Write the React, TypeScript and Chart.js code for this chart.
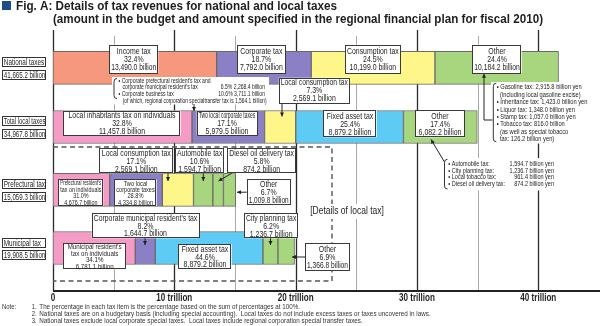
import React, { useEffect, useRef } from 'react';
import { Chart, registerables } from 'chart.js';

Chart.register(...registerables);

// ---------------- DATA ----------------
const rowNames = ['National taxes', 'Total local taxes', 'Prefectural tax', 'Municipal tax'];
const rowTotals = [41665.2, 34967.8, 15059.3, 19908.5];

const nationalItems = ['Income tax', 'Corporate tax', 'Consumption tax', 'Other'];
const nationalValues = [13490.0, 7792.0, 10199.0, 10184.2];
const nationalShares = [32.4, 18.7, 24.5, 24.4];

const localItems = ['Local inhabitants tax on individuals', 'Two local corporate taxes', 'Local consumption tax', 'Fixed asset tax', 'Other'];
const localValues = [11457.8, 5979.5, 2569.1, 8879.2, 6082.2];
const localShares = [32.8, 17.1, 7.3, 25.4, 17.4];

const prefItems = ["Prefectural resident's tax on individuals", 'Two local corporate taxes', 'Local consumption tax', 'Automobile tax', 'Diesel oil delivery tax', 'Other'];
const prefValues = [4676.7, 4334.8, 2569.1, 1594.7, 874.2, 1009.8];
const prefShares = [31.0, 28.8, 17.1, 10.6, 5.8, 6.7];

const muniItems = ["Municipal resident's tax on individuals", "Corporate municipal resident's tax", 'Fixed asset tax', 'City planning tax', 'Other'];
const muniValues = [6781.1, 1644.7, 8879.2, 1236.7, 1366.8];
const muniShares = [34.1, 8.2, 44.6, 6.2, 6.9];

const corpSubFirst = ["Corporate prefectural resident's tax and", "corporate municipal resident's tax"];
const corpSubSecond = 'Corporate business tax';
const corpSubShares = [6.5, 10.6];
const corpSubValues = [2268.4, 3711.1];
const corpSpecialTransfer = 1564.1;

const nationalOtherItems = ['Gasoline tax', 'Inheritance tax', 'Liquor tax', 'Stamp tax', 'Tobacco tax'];
const nationalOtherValues = [2915.8, 1423.0, 1348.0, 1057.0, 816.0];
const specialTobaccoValue = 126.2;

const localOtherItems = ['Automobile tax', 'City planning tax', 'Local tobacco tax', 'Diesel oil delivery tax'];
const localOtherValues = [1594.7, 1236.7, 961.4, 874.2];

const tickValues = [0, 10000, 20000, 30000, 40000];
const tickLabels = ['0', '10 trillion', '20 trillion', '30 trillion', '40 trillion'];
const minorTickValues = [5000, 15000, 25000, 35000];

const noteLines = [
  'The percentage in each tax item is the percentage based on the sum of percentages at 100%.',
  'National taxes are on a budgetary basis (including special accounting).  Local taxes do not include excess taxes or taxes uncovered in laws.',
  'National taxes exclude local corporate special taxes.  Local taxes include regional corporation special transfer taxes.',
];

// ---------------- STYLE / LAYOUT ----------------
const C = { salmon: '#F5987D', purple: '#8B80C5', yellow: '#FFF68A', green: '#A8D67E', pink: '#F59CC6', blue: '#5DCBF4' };
const rowColors = [
  [C.salmon, C.purple, C.yellow, C.green],
  [C.pink, C.purple, C.yellow, C.blue, C.green],
  [C.pink, C.purple, C.yellow, C.green, C.green, C.green],
  [C.pink, C.purple, C.blue, C.green, C.green],
];
const rowTrack = [9.5, 34.8, 61.7, 86.6]; // positions on the 0..100 row track

const FONT = '"Liberation Sans", Arial, Helvetica, sans-serif';
const INK = '#1e1e1e';

const rows = [
  { items: nationalItems, values: nationalValues, shares: nationalShares },
  { items: localItems, values: localValues, shares: localShares },
  { items: prefItems, values: prefValues, shares: prefShares },
  { items: muniItems, values: muniValues, shares: muniShares },
];

const fmt = (v: number) => v.toLocaleString('en-US', { minimumFractionDigits: 1, maximumFractionDigits: 1 });
const pct = (v: number) => v.toFixed(1) + '%';
const starts = (vals: number[]) => { let s = 0; return vals.map((v) => { const a = s; s += v; return a; }); };

type Pt = [number, number];
const boxSpecs: { r: number; s: number; x: number; y: number; w: number; h: number; size: number; gap: number; wrap?: number; arrow?: Pt[] }[] = [
  { r: 0, s: 0, x: 109.3, y: 44.7, w: 49, h: 28.6, size: 9, gap: 8 },
  { r: 0, s: 1, x: 237, y: 44.7, w: 48.7, h: 28.6, size: 9, gap: 8 },
  { r: 0, s: 2, x: 345, y: 44.7, w: 55.7, h: 28.6, size: 9, gap: 8 },
  { r: 0, s: 3, x: 472.3, y: 44.7, w: 49.4, h: 28.6, size: 9, gap: 8 },
  { r: 1, s: 0, x: 63.3, y: 110.7, w: 117.4, h: 25, size: 9, gap: 8 },
  { r: 1, s: 1, x: 196.7, y: 110.7, w: 60.6, h: 25, size: 9, gap: 8 },
  { r: 1, s: 2, x: 278.7, y: 77.7, w: 71.3, h: 25.6, size: 9, gap: 8, arrow: [[282, 103.3], [282, 116.5]] },
  { r: 1, s: 3, x: 323.3, y: 110, w: 53.4, h: 27.3, size: 9, gap: 8 },
  { r: 1, s: 4, x: 415, y: 110, w: 50, h: 27.3, size: 9, gap: 8 },
  { r: 2, s: 0, x: 58.3, y: 179.3, w: 45, h: 26.7, size: 7, gap: 6.4, wrap: 2 },
  { r: 2, s: 1, x: 114.3, y: 179.3, w: 42.4, h: 26.7, size: 7.4, gap: 6.4, wrap: 2 },
  { r: 2, s: 2, x: 99.3, y: 148.3, w: 74, h: 25, size: 9, gap: 8, arrow: [[168, 173.3], [168, 181]] },
  { r: 2, s: 3, x: 175, y: 148.3, w: 49.3, h: 25, size: 9, gap: 8, arrow: [[203.3, 173.3], [203.3, 181]] },
  { r: 2, s: 4, x: 227.3, y: 148.3, w: 68.7, h: 25, size: 9, gap: 8, arrow: [[231.7, 173.3], [218.5, 181]] },
  { r: 2, s: 5, x: 246.7, y: 179.3, w: 44, h: 25.7, size: 9, gap: 8.3, arrow: [[246.7, 192.2], [237, 192.2]] },
  { r: 3, s: 0, x: 63.3, y: 243.3, w: 62.7, h: 26, size: 8, gap: 6.5, wrap: 2 },
  { r: 3, s: 1, x: 91.7, y: 213.3, w: 107.6, h: 25, size: 9, gap: 7.6, arrow: [[145, 238.3], [145, 245]] },
  { r: 3, s: 2, x: 178.3, y: 244, w: 53.4, h: 25.3, size: 9, gap: 7.8 },
  { r: 3, s: 3, x: 244, y: 213.3, w: 54.3, h: 25, size: 9, gap: 8, arrow: [[270.5, 238.3], [270.5, 245]] },
  { r: 3, s: 4, x: 305, y: 242.7, w: 45, h: 28.3, size: 9, gap: 8, arrow: [[305, 257], [292, 257]] },
];

// ---------------- DRAW HELPERS ----------------
function txt(ctx: CanvasRenderingContext2D, s: string, x: number, y: number, o: any = {}) {
  const size = o.size ?? 9;
  ctx.font = `${o.bold ? 'bold ' : ''}${size}px ${FONT}`;
  ctx.textAlign = o.align ?? 'center';
  ctx.textBaseline = 'middle';
  ctx.fillStyle = o.color ?? INK;
  const nat = ctx.measureText(s).width;
  let w = o.fit ?? nat * (o.k ?? 0.77);
  if (o.max !== undefined) w = Math.min(w, o.max);
  ctx.fillText(s, x, y, w);
}

function labelBox(ctx: CanvasRenderingContext2D, x: number, y: number, w: number, h: number, lines: string[], size: number, gap: number) {
  ctx.fillStyle = '#fff';
  ctx.fillRect(x, y, w, h);
  ctx.strokeStyle = '#3a3a3a';
  ctx.lineWidth = 1;
  ctx.strokeRect(Math.round(x) + 0.5, Math.round(y) + 0.5, Math.round(w) - 1, Math.round(h) - 1);
  const cx = x + w / 2, cy = y + h / 2;
  lines.forEach((s, i) => txt(ctx, s, cx, cy + (i - (lines.length - 1) / 2) * gap + 0.5, { size, max: w - 4 }));
}

function arrowLine(ctx: CanvasRenderingContext2D, pts: Pt[]) {
  ctx.strokeStyle = '#222';
  ctx.fillStyle = '#222';
  ctx.lineWidth = 1;
  ctx.beginPath();
  ctx.moveTo(pts[0][0], pts[0][1]);
  for (let i = 1; i < pts.length; i++) ctx.lineTo(pts[i][0], pts[i][1]);
  ctx.stroke();
  const [x1, y1] = pts[pts.length - 2];
  const [x2, y2] = pts[pts.length - 1];
  const a = Math.atan2(y2 - y1, x2 - x1);
  const L = 4, W = 2;
  const c = Math.cos(a), s = Math.sin(a);
  ctx.beginPath();
  ctx.moveTo(x2, y2);
  ctx.lineTo(x2 - L * c + W * s, y2 - L * s - W * c);
  ctx.lineTo(x2 - L * c - W * s, y2 - L * s + W * c);
  ctx.closePath();
  ctx.fill();
}

function brace(ctx: CanvasRenderingContext2D, x: number, y1: number, y2: number) {
  ctx.strokeStyle = '#333';
  ctx.lineWidth = 1;
  ctx.beginPath();
  ctx.moveTo(x + 3, y1);
  ctx.quadraticCurveTo(x, y1, x, y1 + 3);
  ctx.lineTo(x, y2 - 3);
  ctx.quadraticCurveTo(x, y2, x + 3, y2);
  ctx.stroke();
}

function dashed(ctx: CanvasRenderingContext2D, pts: Pt[]) {
  ctx.save();
  ctx.strokeStyle = '#555';
  ctx.lineWidth = 1.4;
  ctx.setLineDash([5, 3.5]);
  ctx.beginPath();
  ctx.moveTo(pts[0][0], pts[0][1]);
  for (let i = 1; i < pts.length; i++) ctx.lineTo(pts[i][0], pts[i][1]);
  ctx.stroke();
  ctx.restore();
}

const gridPlugin = {
  id: 'gridBehind',
  beforeDatasetsDraw(chart: any) {
    const ctx: CanvasRenderingContext2D = chart.ctx;
    const xs = chart.scales.x;
    ctx.save();
    minorTickValues.forEach((v) => {
      const px = Math.round(xs.getPixelForValue(v)) + 0.5;
      ctx.strokeStyle = '#a8a8a8';
      ctx.lineWidth = 1;
      ctx.beginPath(); ctx.moveTo(px, 36); ctx.lineTo(px, 291); ctx.stroke();
    });
    tickValues.forEach((v) => {
      const px = Math.round(xs.getPixelForValue(v)) + 0.5;
      ctx.strokeStyle = '#2a2a2a';
      ctx.lineWidth = 1.3;
      ctx.beginPath(); ctx.moveTo(px, 30); ctx.lineTo(px, 291); ctx.stroke();
    });
    ctx.restore();
  },
};

const annotPlugin = {
  id: 'annotations',
  afterDatasetsDraw(chart: any) {
    const ctx: CanvasRenderingContext2D = chart.ctx;
    const xs = chart.scales.x, ys = chart.scales.y;
    ctx.save();

    // axis line & tick labels
    ctx.strokeStyle = '#222'; ctx.lineWidth = 2;
    ctx.beginPath(); ctx.moveTo(xs.getPixelForValue(0), 291); ctx.lineTo(600, 291); ctx.stroke();
    tickValues.forEach((v, i) => txt(ctx, tickLabels[i], xs.getPixelForValue(v), 298.5, { size: 10.5, bold: true, k: 0.77 }));

    // title
    ctx.fillStyle = '#1D4E89';
    ctx.fillRect(2, 1, 9, 9);
    txt(ctx, 'Fig. A: Details of tax revenues for national and local taxes', 16, 6.5, { size: 12.5, bold: true, align: 'left', fit: 321 });
    txt(ctx, '(amount in the budget and amount specified in the regional financial plan for fiscal 2010)', 53, 20, { size: 12.5, bold: true, align: 'left', fit: 490 });

    // notes
    txt(ctx, 'Note:', 2, 307.5, { size: 7, align: 'left', k: 0.85, color: '#333' });
    const noteFit = [260.7, 391.4, 323.4];
    noteLines.forEach((s, i) => {
      const y = 307.5 + i * 7;
      txt(ctx, `${i + 1}.`, 31.7, y, { size: 7, align: 'left', k: 0.85, color: '#333' });
      txt(ctx, s, 39.3, y, { size: 7, align: 'left', fit: noteFit[i], color: '#333' });
    });

    // dashed frame for details of local tax
    const x0 = xs.getPixelForValue(0);
    dashed(ctx, [[x0, 147], [332, 147], [332, 281], [x0, 281]]);
    ctx.fillStyle = '#fff';
    ctx.fillRect(307, 204, 80, 15);
    txt(ctx, '[Details of local tax]', 347, 211.7, { size: 10, k: 0.85 });

    // row labels
    rowNames.forEach((n, r) => {
      const yc = ys.getPixelForValue(rowTrack[r]);
      [[n, yc - 10.5], [fmt(rowTotals[r]) + ' billion', yc + 2]].forEach(([s, y]: any) => {
        ctx.fillStyle = '#fff'; ctx.fillRect(2, y, 44, 9);
        ctx.strokeStyle = '#333'; ctx.lineWidth = 1;
        ctx.strokeRect(2.5, Math.round(y) + 0.5, 43, 9);
        txt(ctx, s, 3.8, Math.round(y) + 5.2, { size: 8.5, align: 'left', k: 0.75, max: 41.5 });
      });
    });

    // bracket list under national bar (two local corporate taxes)
    ctx.fillStyle = '#fff'; ctx.fillRect(112, 77, 157, 27.5);
    brace(ctx, 114, 78.5, 98.5);
    const sm = { size: 6.5, align: 'left', k: 0.78 };
    txt(ctx, '• ' + corpSubFirst[0], 118.5, 81, sm);
    txt(ctx, corpSubFirst[1], 122.5, 87.7, sm);
    txt(ctx, `${corpSubShares[0]}% ${fmt(corpSubValues[0])} billion`, 220.7, 87.7, sm);
    txt(ctx, '• ' + corpSubSecond, 118.5, 94.3, sm);
    txt(ctx, `${corpSubShares[1]}% ${fmt(corpSubValues[1])} billion`, 218.3, 94.3, sm);
    txt(ctx, `(of which, regional corporation specialtransfer tax is ${fmt(corpSpecialTransfer)} billion)`, 122.7, 101, { size: 6.5, align: 'left', fit: 144 });
    arrowLine(ctx, [[194, 104], [194, 111]]);

    // national "Other" breakdown list
    ctx.fillStyle = '#fff'; ctx.fillRect(491, 82, 99, 61.5);
    brace(ctx, 493.3, 83.3, 141.7);
    const lst = { size: 7, align: 'left', k: 0.82 };
    const nl = [
      [`• ${nationalOtherItems[0]}: ${fmt(nationalOtherValues[0])} billion yen`, 496.7],
      ['(including local gasoline excise)', 500],
      [`• ${nationalOtherItems[1]}: ${fmt(nationalOtherValues[1])} billion yen`, 496.7],
      [`• ${nationalOtherItems[2]}: ${fmt(nationalOtherValues[2])} billion yen`, 496.7],
      [`• ${nationalOtherItems[3]}: ${fmt(nationalOtherValues[3])} billion yen`, 496.7],
      [`• ${nationalOtherItems[4]}: ${fmt(nationalOtherValues[4])} billion`, 496.7],
      ['(as well as special tobacco', 500],
      [`tax: ${fmt(specialTobaccoValue)} billion yen)`, 500],
    ];
    nl.forEach(([s, x]: any, i) => txt(ctx, s, x, 87.3 + i * 7.45, lst));
    arrowLine(ctx, [[492.5, 120], [484, 120], [484, 73.8]]);

    // local "Other" breakdown list
    ctx.fillStyle = '#fff'; ctx.fillRect(443, 158, 114, 32.5);
    brace(ctx, 444.5, 159.3, 189);
    localOtherItems.forEach((s, i) => {
      const y = 164.3 + i * 6.6;
      txt(ctx, `• ${s}:`, 448.3, y, { size: 6.9, align: 'left', k: 0.8 });
      txt(ctx, `${fmt(localOtherValues[i])} billion yen`, 554, y, { size: 6.9, align: 'right', k: 0.8 });
    });
    arrowLine(ctx, [[444.5, 162], [431, 139.5]]);

    // segment label boxes
    boxSpecs.forEach((b) => {
      const row = rows[b.r];
      const name = row.items[b.s];
      let nameLines = [name];
      if (b.wrap) {
        const words = name.split(' ');
        nameLines = [words.slice(0, b.wrap).join(' '), words.slice(b.wrap).join(' ')];
      }
      const lines = [...nameLines, pct(row.shares[b.s]), fmt(row.values[b.s]) + ' billion'];
      labelBox(ctx, b.x, b.y, b.w, b.h, lines, b.size, b.gap);
      if (b.arrow) arrowLine(ctx, b.arrow);
    });

    ctx.restore();
  },
};

const datasets = rows.map((row, r) => {
  const st = starts(row.values);
  return {
    label: rowNames[r],
    data: row.values.map((v, i) => ({ x: [st[i], st[i] + v], y: rowTrack[r] })),
    backgroundColor: rowColors[r],
    borderColor: '#6a6a6a',
    borderWidth: 1,
    borderSkipped: false,
    barThickness: 33,
    grouped: false,
  };
});

export default function App() {
  const ref = useRef<HTMLCanvasElement>(null);
  useEffect(() => {
    document.body.style.margin = '0';
    const chart = new Chart(ref.current as HTMLCanvasElement, {
      type: 'bar',
      data: { datasets: datasets as any },
      options: {
        indexAxis: 'y',
        responsive: false,
        animation: false,
        devicePixelRatio: 1,
        events: [],
        layout: { padding: { left: 53, right: 1, top: 34, bottom: 35 } },
        scales: {
          x: { type: 'linear', min: 0, max: 45000, display: false },
          y: { type: 'linear', min: 0, max: 100, reverse: true, display: false },
        },
        plugins: { legend: { display: false }, tooltip: { enabled: false } },
      } as any,
      plugins: [gridPlugin, annotPlugin],
    });
    return () => chart.destroy();
  }, []);
  return (
    <div style={{ width: 600, height: 326, position: 'relative', background: '#fff' }}>
      <canvas ref={ref} width={600} height={326} style={{ display: 'block', width: 600, height: 326 }} />
    </div>
  );
}
